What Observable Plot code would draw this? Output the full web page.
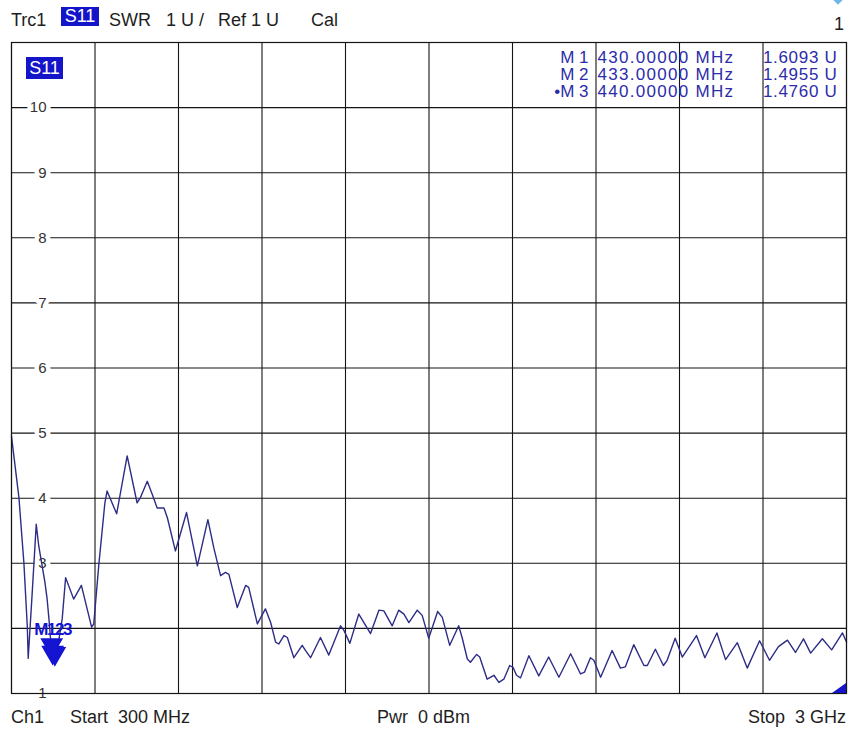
<!DOCTYPE html>
<html>
<head>
<meta charset="utf-8">
<script src="https://cdn.jsdelivr.net/npm/d3@7"></script>
<script src="https://cdn.jsdelivr.net/npm/@observablehq/plot@0.6"></script>
<style>
  html, body { margin: 0; padding: 0; background: #fff; }
  #wrap { position: relative; width: 850px; height: 731px; overflow: hidden; background: #fff;
          font-family: "Liberation Sans", Arial, sans-serif; color: #1e1e1e; }
  .t { position: absolute; white-space: pre; font-size: 18px; line-height: 18px; }
  #chart { position: absolute; left: 0; top: 35px; }
  .hl { position: absolute; background: #1414c8; color: #fff; font-size: 18px; line-height: 19px;
        text-align: center; white-space: pre; }
</style>
</head>
<body>
<div id="wrap">
  <span class="t" style="left:11px;top:11px">Trc1</span>
  <span class="hl" style="left:61px;top:7px;width:38px;height:19px">S11</span>
  <span class="t" style="left:109px;top:11px">SWR</span>
  <span class="t" style="left:166px;top:11px">1 U /</span>
  <span class="t" style="left:218px;top:11px">Ref 1 U</span>
  <span class="t" style="left:311px;top:11px">Cal</span>
  <span class="t" style="right:6px;top:15px">1</span>
  <div style="position:absolute;left:834px;top:-5px;width:8px;height:8px;background:#6fb6e8;transform:rotate(45deg)"></div>

  <div id="chart"></div>

  <span class="hl" style="left:26px;top:57px;width:37px;height:22px;line-height:22px">S11</span>
  <div style="position:absolute;left:832px;top:683px;width:14px;height:10px;background:#1414c8;clip-path:polygon(0 100%,100% 0,100% 100%)"></div>

  <span class="t" style="left:11px;top:708px">Ch1</span>
  <span class="t" style="left:70px;top:708px">Start  300 MHz</span>
  <span class="t" style="left:377px;top:708px">Pwr  0 dBm</span>
  <span class="t" style="right:4px;top:708px">Stop  3 GHz</span>
</div>
<script>
// ---- data ----
const startMHz = 300;
const stopMHz = 3000;
const xGrid = [300, 570, 840, 1110, 1380, 1650, 1920, 2190, 2460, 2730, 3000];
const yGrid = [1, 2, 3, 4, 5, 6, 7, 8, 9, 10, 11];
// the "2" label is hidden under the marker labels in the reference
const yTickLabels = [1, 3, 4, 5, 6, 7, 8, 9, 10];

const freqMHz = [
  300, 324, 340, 351, 354, 367, 380, 388, 408, 415,
  421, 430, 433, 440, 449, 464, 475, 501, 526, 559,
  566, 582, 602, 609, 640, 674, 706, 717, 739, 755,
  771, 793, 804, 830, 866, 901, 935, 954, 976, 992,
  1003, 1030, 1057, 1067, 1095, 1121, 1138, 1154, 1164, 1181,
  1192, 1213, 1240, 1251, 1267, 1299, 1326, 1364, 1375, 1394,
  1423, 1461, 1488, 1504, 1531, 1552, 1569, 1585, 1612, 1628,
  1649, 1678, 1693, 1717, 1746, 1757, 1774, 1784, 1804, 1814,
  1838, 1860, 1876, 1892, 1911, 1922, 1933, 1946, 1973, 2005,
  2037, 2070, 2108, 2140, 2153, 2172, 2183, 2205, 2242, 2269,
  2285, 2312, 2345, 2356, 2382, 2408, 2420, 2446, 2469, 2515,
  2542, 2581, 2609, 2647, 2679, 2719, 2751, 2780, 2809, 2835,
  2861, 2884, 2922, 2952, 2987, 3000
];
const swr = [
  4.95, 4.01, 3.01, 2.04, 1.54, 2.55, 3.60, 3.27, 2.71, 2.46,
  2.15, 1.61, 1.50, 1.48, 1.70, 2.15, 2.78, 2.45, 2.66, 2.02,
  2.07, 2.96, 3.93, 4.11, 3.76, 4.65, 3.93, 4.01, 4.26, 4.06,
  3.85, 3.85, 3.70, 3.19, 3.78, 2.96, 3.67, 3.24, 2.81, 2.86,
  2.83, 2.32, 2.66, 2.63, 2.07, 2.30, 2.09, 1.79, 1.76, 1.89,
  1.86, 1.55, 1.74, 1.66, 1.55, 1.86, 1.59, 2.04, 1.97, 1.77,
  2.22, 1.92, 2.28, 2.27, 2.04, 2.28, 2.22, 2.09, 2.28, 2.20,
  1.85, 2.26, 2.17, 1.74, 2.04, 1.86, 1.53, 1.48, 1.60, 1.56,
  1.22, 1.28, 1.17, 1.22, 1.43, 1.40, 1.28, 1.24, 1.58, 1.27,
  1.56, 1.25, 1.61, 1.30, 1.33, 1.55, 1.51, 1.25, 1.66, 1.39,
  1.41, 1.75, 1.43, 1.43, 1.68, 1.43, 1.51, 1.85, 1.56, 1.89,
  1.55, 1.93, 1.52, 1.78, 1.39, 1.81, 1.51, 1.72, 1.82, 1.63,
  1.84, 1.62, 1.84, 1.67, 1.93, 1.79
];

const markerNames = ["M 1", "M 2", "\u2022M 3"];
const markerFreqs = [430, 433, 440];
const markerValues = [1.6093, 1.4955, 1.4760];
const markerGroupLabel = "M123"; // the three on-trace labels pile up on one spot

// ---- build tables ----
const trace = freqMHz.map((f, i) => ({ f, v: swr[i] }));
const markers = markerFreqs.map((f, i) => ({
  name: markerNames[i], f, v: markerValues[i],
  fText: f.toFixed(5) + " MHz", vText: markerValues[i].toFixed(4) + " U"
}));
const groupLabel = [{ f: markerFreqs[1], v: d3.min(markerValues), text: markerGroupLabel }];

const navy = "#2d2d86";
const markBlue = "#1414d2";
const tableBlue = "#2c2caa";

const chart = Plot.plot({
  width: 850,
  height: 665,
  marginTop: 7,
  marginBottom: 7,
  marginLeft: 11,
  marginRight: 4,
  x: { domain: [startMHz, stopMHz], axis: null },
  y: { domain: [1, 11], axis: null },
  style: { fontFamily: "'Liberation Sans', Arial, sans-serif", background: "white", overflow: "visible" },
  marks: [
    Plot.ruleX(xGrid, { stroke: "#141414", strokeWidth: 1.1 }),
    Plot.ruleY(yGrid, { stroke: "#141414", strokeWidth: 1.1 }),
    Plot.text(yTickLabels, {
      x: startMHz, y: d => d, text: d => String(d), dx: 35, textAnchor: "end",
      fontSize: 15, fill: "#333", stroke: "white", strokeWidth: 9
    }),
    Plot.line(trace, { x: "f", y: "v", stroke: navy, strokeWidth: 1.4 }),
    Plot.dot(markers, { x: "f", y: "v", symbol: "triangle", rotate: 180, r: 7.5, fill: markBlue, stroke: markBlue, dy: -9 }),
    Plot.text(groupLabel, {
      x: "f", y: "v", text: "text", dy: -33, fill: markBlue, fontWeight: "bold", fontSize: 17
    }),
    Plot.text([markers.map(m => m.name).join("\n")], {
      text: d => d, frameAnchor: "top-left", dx: 577, dy: 8, lineAnchor: "top",
      textAnchor: "end", fontSize: 17, lineHeight: 1.02, fill: tableBlue
    }),
    Plot.text([markers.map(m => m.fText).join("\n")], {
      text: d => d, frameAnchor: "top-left", dx: 586, dy: 8, lineAnchor: "top",
      textAnchor: "start", fontSize: 17, lineHeight: 1.02, fill: tableBlue
    }),
    Plot.text([markers.map(m => m.vText).join("\n")], {
      text: d => d, frameAnchor: "top-right", dx: -9, dy: 8, lineAnchor: "top",
      textAnchor: "end", fontSize: 17, lineHeight: 1.02, fill: tableBlue
    }),
    Plot.frame({ stroke: "#141414", strokeWidth: 1.2 })
  ]
});
// widen the marker table text a little, as on the instrument screen
chart.querySelectorAll("text").forEach(t => {
  if (t.textContent.includes("MHz")) t.style.letterSpacing = "1.3px";
  else if (t.textContent.includes(" U")) t.style.letterSpacing = "0.7px";
  else if (t.textContent === markerGroupLabel) t.style.letterSpacing = "-1.5px";
});
document.getElementById("chart").appendChild(chart);
</script>
</body>
</html>
